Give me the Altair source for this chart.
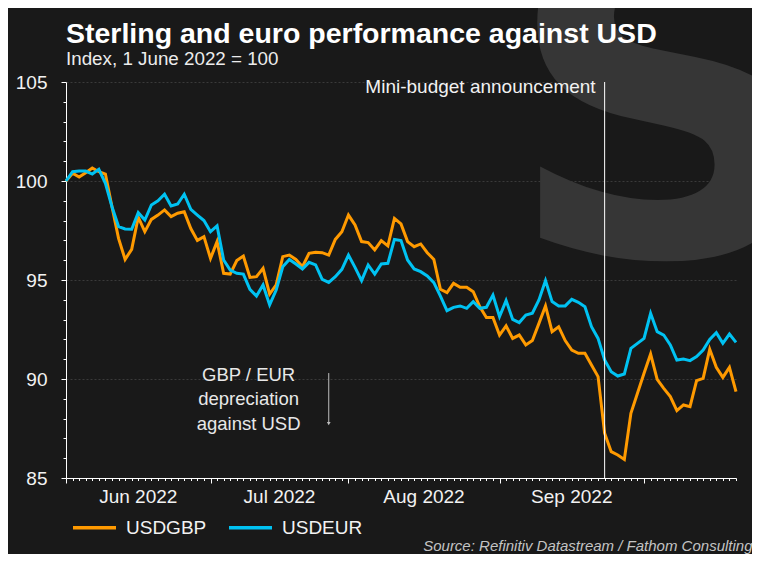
import altair as alt
import pandas as pd

# ---------------- data ----------------
usdgbp = [100.0, 100.39, 100.2, 100.42, 100.66, 100.47, 100.35, 98.7, 97.1, 96.04,
          96.55, 98.17, 97.44, 98.06, 98.28, 98.54, 98.2, 98.37, 98.45, 97.6,
          97.0, 97.19, 96.09, 96.94, 95.34, 95.3, 95.98, 96.21, 95.13, 95.17,
          95.59, 94.29, 94.75, 96.18, 96.26, 96.04, 95.67, 96.35, 96.4, 96.38,
          96.26, 97.05, 97.44, 98.28, 97.78, 96.94, 96.89, 96.52, 96.99, 96.72,
          98.11, 97.83, 96.94, 96.68, 96.82, 96.38, 96.04, 94.53, 94.36, 94.83,
          94.63, 94.63, 94.41, 93.65, 93.11, 93.11, 92.22, 92.68, 92.05, 92.22,
          91.72, 91.94, 92.81, 93.69, 92.39, 92.64, 91.94, 91.46, 91.3, 91.3,
          90.71, 90.12, 87.26, 86.33, 86.16, 85.94, 88.27, 89.28, 90.29, 91.26,
          89.98, 89.53, 89.11, 88.4, 88.69, 88.6, 89.92, 90.03, 91.5, 90.59,
          90.08, 90.59, 89.36]
usdeur = [100.0, 100.47, 100.5, 100.5, 100.35, 100.59, 99.88, 98.7, 97.7, 97.58,
          97.56, 98.4, 98.03, 98.79, 99.0, 99.33, 98.74, 98.84, 99.33, 98.57,
          98.28, 98.0, 97.44, 97.73, 96.01, 95.5, 95.34, 95.3, 94.53, 94.19,
          94.75, 93.74, 94.49, 95.67, 96.04, 95.81, 95.56, 95.89, 95.76, 95.03,
          94.88, 95.17, 95.54, 96.26, 95.64, 94.97, 95.76, 95.3, 95.81, 95.84,
          97.05, 96.99, 96.01, 95.56, 95.42, 95.2, 94.87, 94.19, 93.45, 93.62,
          93.69, 93.57, 93.91, 93.57, 93.62, 94.24, 93.15, 93.96, 93.01, 92.85,
          93.23, 93.32, 93.99, 94.97, 93.91, 93.69, 93.69, 94.02, 93.87, 93.65,
          92.64, 92.05, 90.96, 90.37, 90.15, 90.25, 91.55, 91.8, 92.05, 93.32,
          92.39, 92.22, 91.72, 90.96, 91.01, 90.93, 91.13, 91.46, 92.0, 92.34,
          91.8, 92.27, 91.85]
series_names = ["USDGBP", "USDEUR"]
series_colors = ["#ff9a00", "#00c2f2"]
month_labels = ["Jun 2022", "Jul 2022", "Aug 2022", "Sep 2022"]
y_ticks = list(range(85, 106))
title_text = "Sterling and euro performance against USD"
subtitle_text = "Index, 1 June 2022 = 100"
event_date = "2022-09-23"
event_label = "Mini-budget announcement"
note_text = "GBP / EUR\ndepreciation\nagainst USD"
source_text = "Source: Refinitiv Datastream / Fathom Consulting"

# business-day axis (trading days)
dates = pd.bdate_range("2022-06-01", periods=len(usdgbp))
idx = list(range(len(dates)))
month_starts = [i for i in idx if i == 0 or dates[i].month != dates[i - 1].month]
month_bounds = month_starts + [month_starts[-1] + 22]
month_mid = [(month_bounds[k] + month_bounds[k + 1]) / 2 for k in range(len(month_labels))]
event_idx = int(list(dates.strftime("%Y-%m-%d")).index(event_date))

gbp_df = pd.DataFrame({"i": idx, "v": usdgbp, "s": series_names[0]})
eur_df = pd.DataFrame({"i": idx, "v": usdeur, "s": series_names[1]})
months_df = pd.DataFrame({"i": month_mid, "t": month_labels})
event_df = pd.DataFrame({"i": [event_idx], "v": [104.45], "t": [event_label]})
note_df = pd.DataFrame({"i": [27.8], "v": [89.9], "t": [note_text]})
arrow_df = pd.DataFrame({"i": [40], "v": [90.3], "v2": [87.8]})
arrowhead_df = pd.DataFrame({"i": [40], "v": [87.75]})

W, H = 670, 396
FONT = "Liberation Sans"
BG = "#191919"
XMAX = len(idx) - 1

xscale = alt.Scale(domain=[0, XMAX], nice=False, zero=False)
yscale = alt.Scale(domain=[85, 105], nice=False, zero=False)

major_test = "indexof(%s, datum.value) >= 0" % str(month_starts).replace(" ", "")

x_axis = alt.Axis(
    values=idx, tickCount=1000, labels=False, grid=False,
    domainColor="white", domainWidth=1,
    tickColor="white", tickWidth=1,
    tickSize={"condition": {"test": major_test, "value": 5}, "value": 2.5},
    title=source_text, titleFont=FONT, titleFontSize=15, titleFontStyle="italic",
    titleFontWeight="normal", titleColor="#c4c4c4", titleAnchor="end", titleAlign="right",
    titleX=W + 16, titleY=72, titleBaseline="alphabetic",
)
y_axis = alt.Axis(
    values=y_ticks, tickCount=1000, title=None, format="d",
    labelExpr="datum.value % 5 === 0 ? datum.label : ''",
    labelFont=FONT, labelFontSize=19, labelColor="#f2f2f2", labelPadding=14,
    labelOverlap=False,
    domainColor="white", domainWidth=1,
    tickColor="white", tickWidth=1,
    tickSize={"condition": {"test": "datum.value % 5 === 0", "value": 5}, "value": 3},
    grid=True, gridColor="#3a3a3a", gridDash=[2, 2], gridWidth=1,
    gridOpacity={"condition": {"test": "datum.value % 5 === 0", "value": 1}, "value": 0},
)

color = alt.Color(
    "s:N",
    scale=alt.Scale(domain=series_names, range=series_colors),
    legend=alt.Legend(
        title=None, orient="none", legendX=5, legendY=422, direction="horizontal",
        symbolType="stroke", symbolSize=43 * 43, symbolStrokeWidth=3.5,
        labelFont=FONT, labelFontSize=19, labelColor="#f2f2f2",
        labelOffset=8, columnPadding=15,
    ),
)

watermark = alt.Chart(pd.DataFrame({"t": ["S"]})).mark_text(
    font="DejaVu Sans", fontWeight="bold", fontSize=450, color="#363636",
    align="center", baseline="alphabetic",
).encode(text="t:N", x=alt.value(601), y=alt.value(173))

titles = alt.Chart(pd.DataFrame({"t": [title_text]})).mark_text(
    font=FONT, fontSize=28.5, fontWeight="bold", color="white",
    align="left", baseline="alphabetic",
).encode(text="t:N", x=alt.value(0), y=alt.value(-39))
subtitles = alt.Chart(pd.DataFrame({"t": [subtitle_text]})).mark_text(
    font=FONT, fontSize=18.8, color="#ececec", align="left", baseline="alphabetic",
).encode(text="t:N", x=alt.value(0), y=alt.value(-17))

line_gbp = alt.Chart(gbp_df).mark_line(strokeWidth=3).encode(
    x=alt.X("i:Q", scale=xscale, axis=x_axis),
    y=alt.Y("v:Q", scale=yscale, axis=y_axis),
    color=color,
)
line_eur = alt.Chart(eur_df).mark_line(strokeWidth=3).encode(
    x=alt.X("i:Q", scale=xscale),
    y=alt.Y("v:Q", scale=yscale),
    color=color,
)

month_text = alt.Chart(months_df).mark_text(
    font=FONT, fontSize=19, color="#f2f2f2", align="center", baseline="alphabetic",
).encode(x=alt.X("i:Q", scale=xscale), y=alt.value(H + 25), text="t:N")

event_rule = alt.Chart(event_df).mark_rule(color="white", strokeWidth=1).encode(
    x=alt.X("i:Q", scale=xscale)
)
event_text = alt.Chart(event_df).mark_text(
    font=FONT, fontSize=19, color="#f2f2f2", align="right", baseline="alphabetic", dx=-9,
).encode(x=alt.X("i:Q", scale=xscale), y=alt.Y("v:Q", scale=yscale), text="t:N")

note = alt.Chart(note_df).mark_text(
    font=FONT, fontSize=18.5, color="#e8e8e8", align="center", baseline="alphabetic",
    lineBreak="\n", lineHeight=24.5,
).encode(x=alt.X("i:Q", scale=xscale), y=alt.Y("v:Q", scale=yscale), text="t:N")

arrow = alt.Chart(arrow_df).mark_rule(color="#bdbdbd", strokeWidth=1).encode(
    x=alt.X("i:Q", scale=xscale), y=alt.Y("v:Q", scale=yscale), y2="v2:Q"
)
arrowhead = alt.Chart(arrowhead_df).mark_point(
    shape="triangle-down", filled=True, color="#bdbdbd", size=14, opacity=1
).encode(x=alt.X("i:Q", scale=xscale), y=alt.Y("v:Q", scale=yscale))

chart = alt.layer(
    watermark, titles, subtitles, line_gbp, line_eur, month_text,
    event_rule, event_text, note, arrow, arrowhead
).properties(
    width=W, height=H,
    autosize=alt.AutoSizeParams(type="none"),
    padding={"left": 58, "top": 74, "right": 16, "bottom": 76},
).configure(background=BG).configure_view(stroke=None)

chart.save("out.html", embed_options={"renderer": "svg", "actions": False})
